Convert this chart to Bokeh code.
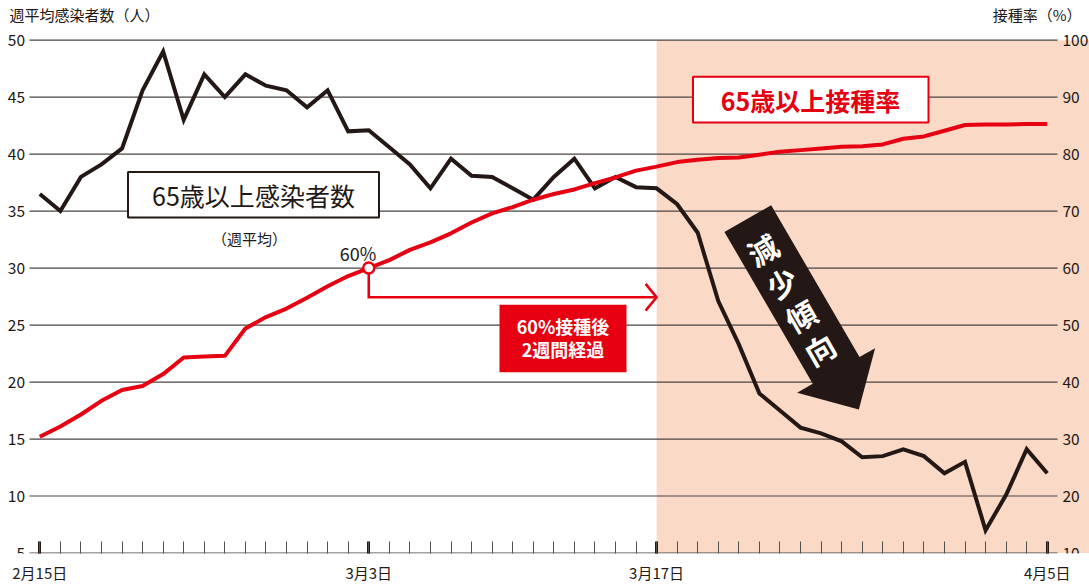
import math
from bokeh.plotting import figure
from bokeh.models import Range1d, FixedTicker
from bokeh.core.properties import value
from bokeh.embed import file_html
from bokeh.resources import INLINE

# ---------------- data ----------------
days = list(range(50))                      # 2/15 .. 4/5
date_tick_days = [0, 16, 30, 49]
date_tick_labels = ["2月15日", "3月3日", "3月17日", "4月5日"]

infections = [36.5, 35.0, 38.0, 39.1, 40.5, 45.6, 49.0, 43.0, 47.0, 45.0,
              47.0, 46.0, 45.6, 44.1, 45.6, 42.0, 42.1, 40.6, 39.1, 37.0,
              39.6, 38.1, 38.0, 37.0, 36.0, 38.0, 39.6, 37.0, 38.0, 37.1,
              37.0, 35.6, 33.1, 27.1, 23.3, 19.0, 17.5, 16.0, 15.5, 14.8,
              13.4, 13.5, 14.1, 13.5, 12.0, 13.0, 7.0, 10.1, 14.1, 12.0]

vaccination = [30.4, 32.2, 34.3, 36.7, 38.6, 39.3, 41.4, 44.3, 44.5, 44.6,
               49.4, 51.4, 52.9, 54.8, 56.8, 58.6, 60.0, 61.4, 63.2, 64.5,
               66.1, 68.0, 69.6, 70.7, 72.0, 73.0, 73.8, 74.9, 75.9, 77.1,
               77.8, 78.6, 79.0, 79.3, 79.4, 79.9, 80.4, 80.7, 81.0, 81.3,
               81.4, 81.7, 82.7, 83.1, 84.1, 85.1, 85.2, 85.2, 85.3, 85.3]

left_ticks = [5, 10, 15, 20, 25, 30, 35, 40, 45, 50]
right_ticks = [10, 20, 30, 40, 50, 60, 70, 80, 90, 100]

milestone_day = 16       # 60% reached
milestone_rate = 60
weeks_after = 14         # 2 weeks later -> 3/17

# ---------------- layout helpers ----------------
PX_DAY = 20.56
PX_UNIT = 11.5
X0 = 39.3     # canvas x of day 0
Y50 = 40.0    # canvas y of value 50


def sx(x):
    return (x - X0) / PX_DAY


def sy(y):
    return 50 - (y - Y50) / PX_UNIT


def to_rate(v):
    return 10 + (v - 5) * 2


def to_left(r):
    return 5 + (r - 10) / 2


FONT = value("Noto Sans CJK JP")
INK = "#231815"
RED = "#E60012"
PEACH = "#FAD9C6"
GRID = "#4a4442"

W, H = 1089, 585
BOTTOM = 27

y0, y1 = sy(H - BOTTOM), sy(0)
p = figure(width=W, height=H, output_backend="svg", toolbar_location=None,
           x_range=Range1d(sx(0), sx(W)), y_range=Range1d(y0, y1),
           y_axis_location=None,
           min_border_left=0, min_border_right=0, min_border_top=0,
           min_border_bottom=BOTTOM)
p.extra_y_ranges = {"rate": Range1d(to_rate(y0), to_rate(y1))}
p.grid.visible = False
p.outline_line_color = None
p.background_fill_color = "white"
p.border_fill_color = "white"

# x axis
ax = p.xaxis[0]
ax.ticker = FixedTicker(ticks=date_tick_days, minor_ticks=days)
ax.major_label_overrides = {d: l for d, l in zip(date_tick_days, date_tick_labels)}
ax.axis_line_color = None
ax.major_tick_in = 12
ax.major_tick_out = 0
ax.major_tick_line_width = 3
ax.major_tick_line_color = INK
ax.minor_tick_in = 12
ax.minor_tick_out = 0
ax.minor_tick_line_width = 1
ax.minor_tick_line_color = "#555050"
ax.major_label_text_font = "Noto Sans CJK JP"
ax.major_label_text_font_size = "15px"
ax.major_label_text_color = INK
ax.major_label_standoff = 8

x_start, x_end = -0.5, len(days) - 0.5
x_stop = sx(W)

# shaded period (after 2 weeks)
p.quad(left=[milestone_day + weeks_after], right=[x_stop], bottom=[left_ticks[0]],
       top=[left_ticks[-1]], fill_color=PEACH, line_color=None)

# grid lines
p.segment(x0=[x_start] * len(left_ticks), y0=left_ticks,
          x1=[x_end] * len(left_ticks), y1=left_ticks,
          line_color=GRID, line_width=1.2)

# left tick labels
p.text(x=[sx(24.5)] * len(left_ticks), y=left_ticks, text=[str(t) for t in left_ticks],
       text_font=FONT, text_font_size="15.5px", text_color=INK,
       text_align="right", text_baseline="alphabetic")
# right tick labels
p.text(x=[sx(1062)] * len(right_ticks), y=right_ticks, text=[str(t) for t in right_ticks],
       y_range_name="rate",
       text_font=FONT, text_font_size="15.5px", text_color=INK,
       text_align="left", text_baseline="alphabetic")

# axis titles
p.text(x=[sx(9)], y=[sy(14.5)], text=["週平均感染者数（人）"], text_font=FONT,
       text_font_size="15px", text_color=INK, text_align="left", text_baseline="middle")
p.text(x=[sx(1081)], y=[sy(14.5)], text=["接種率（%）"], text_font=FONT,
       text_font_size="15px", text_color=INK, text_align="right", text_baseline="middle")

# series
p.line(days, infections, line_color=INK, line_width=4, line_join="miter")
p.line(days, vaccination, y_range_name="rate", line_color=RED, line_width=4,
       line_join="round")

# bracket from 60% point to 2 weeks later
m_v = to_left(milestone_rate)
br_y = sy(299.5)
end_day = milestone_day + weeks_after
p.line([milestone_day, milestone_day, end_day], [m_v, br_y, br_y],
       line_color=RED, line_width=2.6, line_join="miter")
p.line([end_day - 11 / PX_DAY, end_day, end_day - 11 / PX_DAY],
       [br_y + 13.5 / PX_UNIT, br_y, br_y - 13.5 / PX_UNIT],
       line_color=RED, line_width=2.6, line_join="miter")
p.scatter([milestone_day], [milestone_rate], y_range_name="rate", size=11,
          fill_color="white", line_color=RED, line_width=2.5)
p.text(x=[sx(357.5)], y=[sy(255)], text=[f"{milestone_rate}%"], text_font=FONT,
       text_font_size="18px", text_color=INK, text_align="center", text_baseline="middle")

# red label box
p.quad(left=[sx(499)], right=[sx(626)], top=[sy(307)], bottom=[sy(375)],
       fill_color=RED, line_color=None)
p.text(x=[sx(562.5)] * 2, y=[sy(328.5), sy(352)], text=["60%接種後", "2週間経過"],
       text_font=FONT, text_font_size="18px", text_font_style="bold",
       text_color="white", text_align="center", text_baseline="middle")

# infection label box
p.quad(left=[sx(127.5)], right=[sx(378.5)], top=[sy(173)], bottom=[sy(219)],
       fill_color="white", line_color=INK, line_width=2)
p.text(x=[sx(253)], y=[sy(196)], text=["65歳以上感染者数"], text_font=FONT,
       text_font_size="25px", text_color=INK, text_align="center", text_baseline="middle")
p.text(x=[sx(249)], y=[sy(240)], text=["（週平均）"], text_font=FONT,
       text_font_size="15px", text_color=INK, text_align="center", text_baseline="middle")

# vaccination label box
p.quad(left=[sx(692.5)], right=[sx(928)], top=[sy(77)], bottom=[sy(123)],
       fill_color="white", line_color=RED, line_width=2)
p.text(x=[sx(810)], y=[sy(100)], text=["65歳以上接種率"], text_font=FONT,
       text_font_size="25px", text_font_style="bold", text_color=RED,
       text_align="center", text_baseline="middle")

# big arrow "減少傾向"
T = (747.3, 220.0)
u = (0.499, 0.866)
n = (0.866, -0.499)
w, hw, Lb, Lt = 27, 45, 177, 222.5


def pt(a, b):
    return (T[0] + a * u[0] + b * n[0], T[1] + a * u[1] + b * n[1])


poly = [pt(0, -w), pt(0, w), pt(Lb, w), pt(Lb, hw), pt(Lt, 0), pt(Lb, -hw), pt(Lb, -w)]
p.patch([sx(q[0]) for q in poly], [sy(q[1]) for q in poly], fill_color=INK, line_color=None)
c = pt(92, -3)
p.text(x=[sx(c[0])], y=[sy(c[1])], text=["減\n少\n傾\n向"], angle=math.pi / 6,
       text_font=FONT, text_font_size="30px", text_font_style="bold",
       text_color="white", text_align="center", text_baseline="middle",
       text_line_height=0.87)

open("out.html", "w").write(file_html(p, INLINE))
